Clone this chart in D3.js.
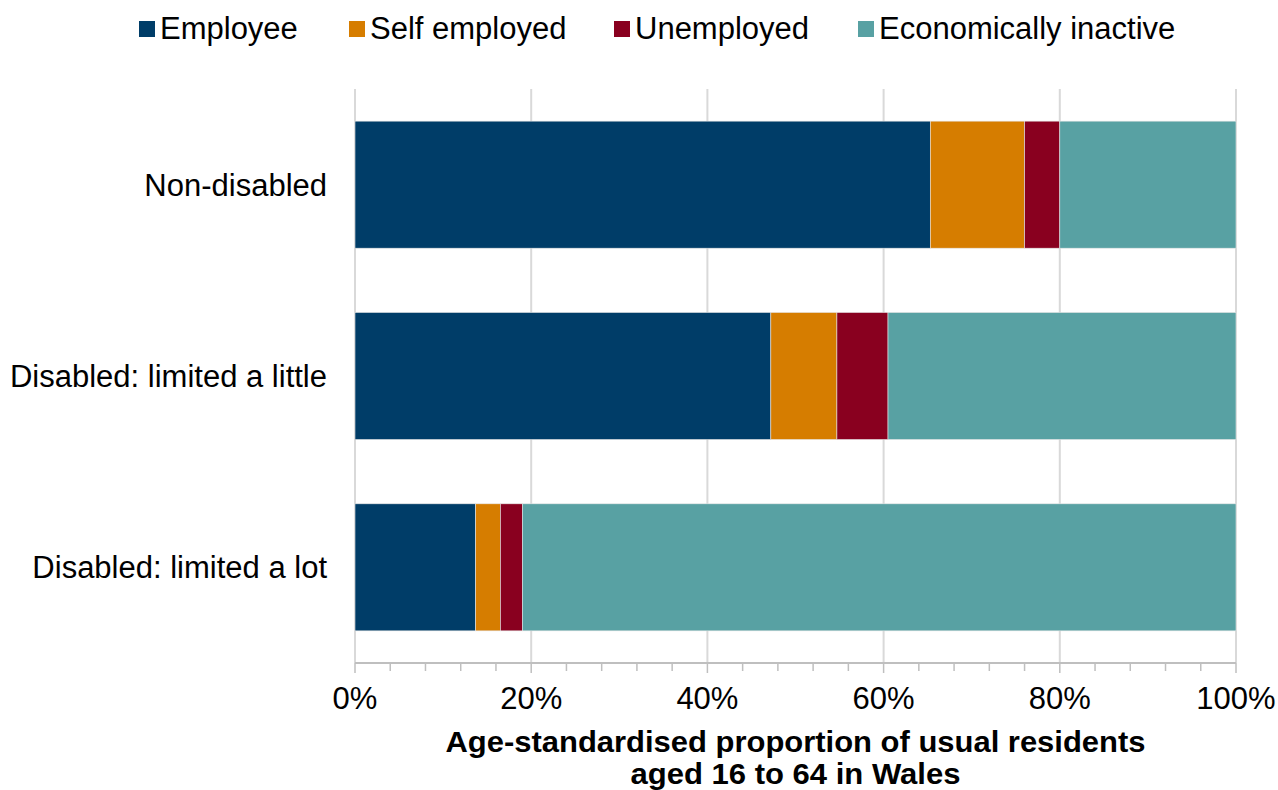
<!DOCTYPE html>
<html>
<head>
<meta charset="utf-8">
<script src="https://cdn.jsdelivr.net/npm/d3@7"></script>
<style>
  body { margin: 0; background: #fff; }
  text { font-family: "Liberation Sans", Arial, sans-serif; fill: #000; }
</style>
</head>
<body>
<svg id="chart" width="1278" height="790"></svg>
<script>
// categories top to bottom
const groups = ["Non-disabled", "Disabled: limited a little", "Disabled: limited a lot"]
const seriesNames = ["Employee", "Self employed", "Unemployed", "Economically inactive"]
const seriesColors = ["#003d68", "#d67d00", "#89001f", "#58a1a3"]
// percentages per group, same order as seriesNames
const employee = [65.3, 47.2, 13.7]
const selfEmployed = [10.7, 7.5, 2.8]
const unemployed = [4.0, 5.8, 2.5]
const inactive = [20.0, 39.5, 81.0]
const xTicks = [0, 20, 40, 60, 80, 100]
const titleLines = ["Age-standardised proportion of usual residents", "aged 16 to 64 in Wales"]

const margin = { top: 89, right: 42, bottom: 127, left: 355 }
const width = 1278, height = 790
const fontSize = 31
const svg = d3.select("#chart")

const rows = groups.map((g, i) => ({
    group: g,
    "Employee": employee[i],
    "Self employed": selfEmployed[i],
    "Unemployed": unemployed[i],
    "Economically inactive": inactive[i]
}))
const stacked = d3.stack().keys(seriesNames)(rows)

const x = d3.scaleLinear().domain([0, 100]).range([margin.left, width - margin.right])
const y = d3.scaleBand().domain(groups).range([margin.top, height - margin.bottom]).paddingInner(0.336).paddingOuter(0.168)
const color = d3.scaleOrdinal().domain(seriesNames).range(seriesColors)

// gridlines
svg.append("g")
    .selectAll("line")
    .data(xTicks)
    .enter()
    .append("line")
    .attr("x1", d => x(d)).attr("x2", d => x(d))
    .attr("y1", margin.top).attr("y2", height - margin.bottom)
    .attr("stroke", "#d9d9d9")
    .attr("stroke-width", 2)

// bars
svg.append("g")
    .selectAll("g")
    .data(stacked)
    .enter()
    .append("g")
    .attr("fill", d => color(d.key))
    .selectAll("rect")
    .data(d => d)
    .enter()
    .append("rect")
    .attr("x", d => x(d[0]))
    .attr("width", d => x(d[1]) - x(d[0]))
    .attr("y", d => y(d.data.group))
    .attr("height", y.bandwidth())
    .attr("stroke", "#e6e6e6")
    .attr("stroke-width", 0.6)

// x axis: minor ticks every 4%, labels every 20%
const axisY = height - margin.bottom
const axisG = svg.append("g").attr("transform", "translate(0," + axisY + ")")
axisG.append("line")
    .attr("x1", x(0)).attr("x2", x(100))
    .attr("stroke", "#bfbfbf").attr("stroke-width", 2)
axisG.selectAll(".minor")
    .data(d3.range(0, 101, 4))
    .enter()
    .append("line")
    .attr("class", "minor")
    .attr("x1", d => x(d)).attr("x2", d => x(d))
    .attr("y1", 0).attr("y2", d => d % 20 === 0 ? 10 : 8)
    .attr("stroke", "#bfbfbf").attr("stroke-width", 1.5)
axisG.selectAll(".lbl")
    .data(xTicks)
    .enter()
    .append("text")
    .attr("class", "lbl")
    .attr("x", d => x(d))
    .attr("y", 46)
    .attr("text-anchor", "middle")
    .attr("font-size", fontSize)
    .text(d => d + "%")

// category labels
svg.append("g")
    .selectAll("text")
    .data(groups)
    .enter()
    .append("text")
    .attr("x", 327)
    .attr("y", d => y(d) + y.bandwidth() / 2 + 11)
    .attr("text-anchor", "end")
    .attr("font-size", fontSize)
    .text(d => d)

// axis title
const cx = (x(0) + x(100)) / 2
svg.append("text")
    .attr("x", cx).attr("y", 752)
    .attr("text-anchor", "middle")
    .attr("font-size", 29).attr("font-weight", "bold")
    .attr("textLength", 700).attr("lengthAdjust", "spacingAndGlyphs")
    .text(titleLines[0])
svg.append("text")
    .attr("x", cx).attr("y", 784)
    .attr("text-anchor", "middle")
    .attr("font-size", 29).attr("font-weight", "bold")
    .attr("textLength", 330).attr("lengthAdjust", "spacingAndGlyphs")
    .text(titleLines[1])

// legend
const legendX = [139, 349, 614, 858]
const legend = svg.append("g")
    .selectAll("g")
    .data(seriesNames)
    .enter()
    .append("g")
    .attr("transform", (d, i) => "translate(" + legendX[i] + ",0)")
legend.append("rect")
    .attr("x", 0).attr("y", 21)
    .attr("width", 16).attr("height", 16)
    .attr("fill", d => color(d))
legend.append("text")
    .attr("x", 21).attr("y", 39)
    .attr("font-size", fontSize)
    .text(d => d)
</script>
</body>
</html>
